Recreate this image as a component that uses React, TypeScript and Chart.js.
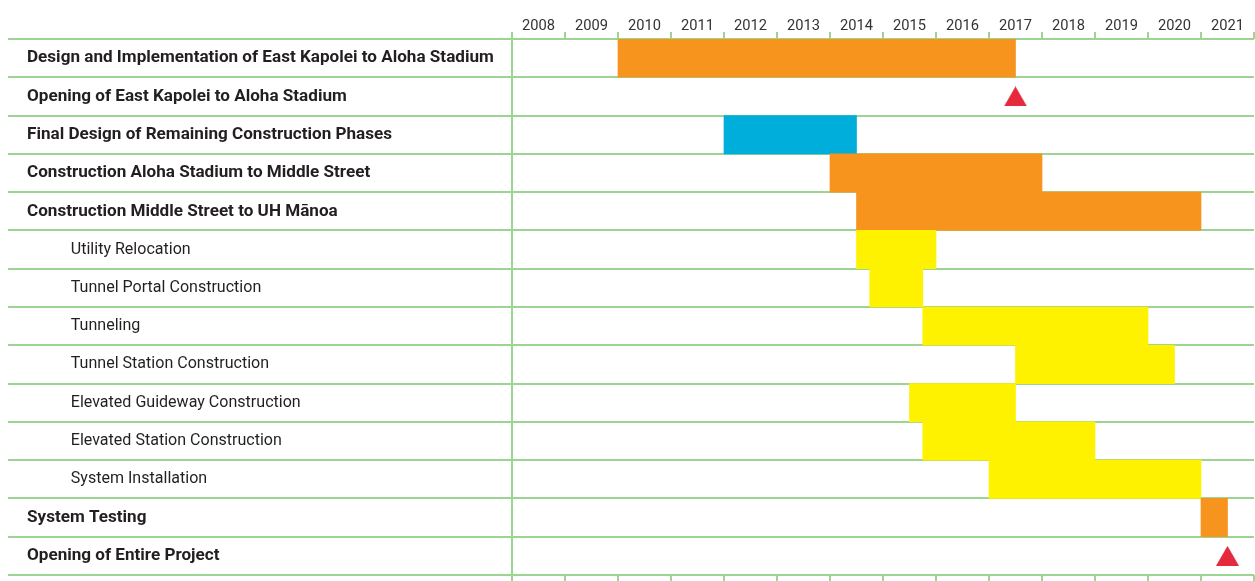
import React, { useEffect, useRef } from "react";
import { Chart, registerables } from "chart.js";

Chart.register(...registerables);

// ---- data ----
const taskLabels = [
  "Design and Implementation of East Kapolei to Aloha Stadium",
  "Opening of East Kapolei to Aloha Stadium",
  "Final Design of Remaining Construction Phases",
  "Construction Aloha Stadium to Middle Street",
  "Construction Middle Street to UH M\u0101noa",
  "Utility Relocation",
  "Tunnel Portal Construction",
  "Tunneling",
  "Tunnel Station Construction",
  "Elevated Guideway Construction",
  "Elevated Station Construction",
  "System Installation",
  "System Testing",
  "Opening of Entire Project",
];
// 0 = main item (bold), 1 = sub item (indented)
const taskLevel = [0, 0, 0, 0, 0, 1, 1, 1, 1, 1, 1, 1, 0, 0];
const startYears = [2010.0, null, 2012.0, 2014.0, 2014.5, 2014.5, 2014.75, 2015.75, 2017.5, 2015.5, 2015.75, 2017.0, 2021.0, null];
const endYears = [2017.5, null, 2014.5, 2018.0, 2021.0, 2016.0, 2015.75, 2020.0, 2020.5, 2017.5, 2019.0, 2021.0, 2021.5, null];
const barColors = [
  "#f7941e", null, "#00aedb", "#f7941e", "#f7941e",
  "#fff200", "#fff200", "#fff200", "#fff200", "#fff200", "#fff200", "#fff200",
  "#f7941e", null,
];
const milestoneYears = [null, 2017.5, null, null, null, null, null, null, null, null, null, null, null, 2021.5];
const yearMin = 2008;
const yearMax = 2022;

const FAMILY = 'Roboto, "Liberation Sans", "DejaVu Sans", sans-serif';
const GREEN = "#9dd494";
const RED = "#e62a3d";

function measureWidth(font: string, text: string): number {
  const c = document.createElement("canvas").getContext("2d");
  if (!c) return 100;
  c.font = font;
  return c.measureText(text).width;
}

// triangle marker whose bounding box is centred on the point
function makeTriangle(w: number, h: number, color: string): HTMLCanvasElement {
  const cv = document.createElement("canvas");
  cv.width = w;
  cv.height = h;
  const c = cv.getContext("2d");
  if (c) {
    c.fillStyle = color;
    c.beginPath();
    c.moveTo(w / 2, 0);
    c.lineTo(w, h);
    c.lineTo(0, h);
    c.closePath();
    c.fill();
  }
  return cv;
}

export default function App() {
  const canvasRef = useRef<HTMLCanvasElement | null>(null);

  useEffect(() => {
    const canvas = canvasRef.current;
    if (!canvas) return;

    const plotLeft = 512;
    const plotRight = 1254;
    const labelLeft = 27;
    const subLabelLeft = 70;
    const halfYear = (plotRight - plotLeft) / (yearMax - yearMin) / 2;

    // font sizes chosen so that text widths match the condensed original
    const clamp = (v: number, a: number, b: number) => Math.max(a, Math.min(b, v));
    const boldSize = clamp((100 * 467) / measureWidth(`bold 100px ${FAMILY}`, taskLabels[0]), 13, 19);
    const normalSize = clamp((100 * 230) / measureWidth(`normal 100px ${FAMILY}`, "Elevated Guideway Construction"), 13, 19);
    const yearSize = clamp((100 * 33) / measureWidth(`normal 100px ${FAMILY}`, "2008"), 12, 18);
    const spaceW = measureWidth(`normal ${normalSize}px ${FAMILY}`, " ") || 4;
    const indent = " ".repeat(Math.max(1, Math.round((subLabelLeft - labelLeft) / spaceW)));

    const barData = startYears.map((s, i) => (s === null ? null : [s, endYears[i]]));
    const triangle = makeTriangle(23, 20, RED);

    const chart = new Chart(canvas, {
      type: "bar",
      data: {
        labels: taskLabels,
        datasets: [
          {
            type: "bar",
            label: "Schedule",
            data: barData as any,
            backgroundColor: barColors.map((c) => c || "rgba(0,0,0,0)"),
            borderWidth: 0,
            barPercentage: 1,
            categoryPercentage: 1,
            xAxisID: "x",
            yAxisID: "y",
          },
          {
            type: "line",
            label: "Milestones",
            data: milestoneYears as any,
            showLine: false,
            pointStyle: triangle,
            pointRadius: 12,
            pointHoverRadius: 12,
            pointBackgroundColor: RED,
            pointBorderColor: RED,
            pointBorderWidth: 0,
            clip: false,
            xAxisID: "x",
            yAxisID: "y",
          },
        ],
      },
      options: {
        indexAxis: "y",
        animation: false,
        responsive: false,
        maintainAspectRatio: false,
        layout: {
          autoPadding: false,
          padding: { left: labelLeft, right: 1255 - plotRight, top: 0, bottom: 0 },
        },
        plugins: {
          legend: { display: false },
          tooltip: { enabled: false },
          title: { display: false },
        },
        scales: {
          x: {
            type: "linear",
            position: "top",
            min: yearMin,
            max: yearMax,
            afterFit: (scale: any) => {
              scale.height = 39;
              scale.paddingLeft = 0;
              scale.paddingRight = 0;
            },
            ticks: {
              stepSize: 1,
              autoSkip: false,
              maxRotation: 0,
              minRotation: 0,
              padding: -2,
              labelOffset: halfYear,
              color: "#333333",
              font: { family: FAMILY, size: yearSize, lineHeight: 1 },
              callback: (value: any) => (Number(value) >= yearMax ? "" : String(value)),
            },
            grid: { drawOnChartArea: false, drawTicks: true, tickLength: 7, color: GREEN, lineWidth: 2 },
            border: { display: false },
          },
          x2: {
            type: "linear",
            position: "bottom",
            min: yearMin,
            max: yearMax,
            afterFit: (scale: any) => {
              scale.height = 6;
              scale.paddingLeft = 0;
              scale.paddingRight = 0;
            },
            ticks: { stepSize: 1, display: false, autoSkip: false },
            grid: { drawOnChartArea: false, drawTicks: true, tickLength: 6, color: GREEN, lineWidth: 2 },
            border: { display: false },
          },
          y: {
            type: "category",
            position: "left",
            offset: true,
            z: 1,
            afterFit: (scale: any) => {
              scale.width = plotLeft - labelLeft;
              scale.paddingTop = 0;
              scale.paddingBottom = 0;
            },
            ticks: {
              crossAlign: "far",
              autoSkip: false,
              color: "#231f20",
              font: (ctx: any) =>
                taskLevel[ctx.index]
                  ? { family: FAMILY, size: normalSize, weight: "normal" }
                  : { family: FAMILY, size: boldSize, weight: "bold" },
              callback: (_v: any, index: number) => (taskLevel[index] ? indent : "") + taskLabels[index],
            },
            grid: {
              offset: true,
              drawOnChartArea: true,
              drawTicks: true,
              tickLength: plotLeft - 8,
              color: GREEN,
              lineWidth: 2,
            },
            border: { display: true, color: GREEN, width: 2 },
          },
        },
      } as any,
    });

    return () => chart.destroy();
  }, []);

  return (
    <div style={{ position: "fixed", left: 0, top: 0, width: "1255px", height: "581px", background: "#ffffff" }}>
      <canvas ref={canvasRef} width={1255} height={581} style={{ display: "block", width: "1255px", height: "581px" }} />
    </div>
  );
}
